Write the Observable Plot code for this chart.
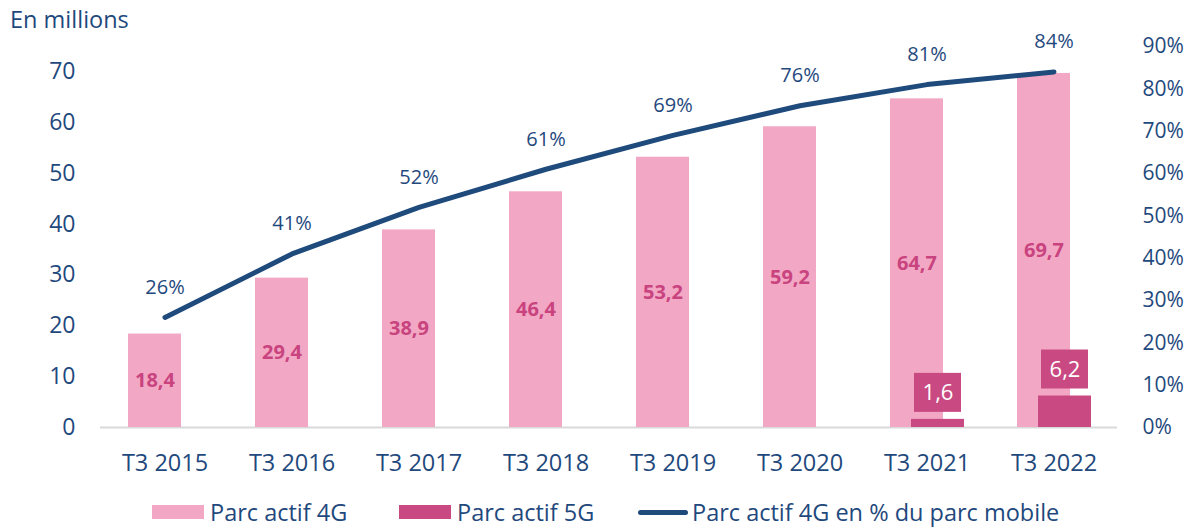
<!DOCTYPE html>
<html>
<head>
<meta charset="utf-8">
<script src="https://cdn.jsdelivr.net/npm/d3@7"></script>
<script src="https://cdn.jsdelivr.net/npm/@observablehq/plot@0.6"></script>
<style>
  body { margin: 0; background: #fff; font-family: "Open Sans", sans-serif; color: #1f497d; }
  #wrap { position: relative; width: 1186px; height: 527px; overflow: hidden; }
  #title { position: absolute; left: 10px; top: 3px; font-size: 23.5px; line-height: 32px; }
  #chart { position: absolute; left: 0; top: 0; }
  #legend { position: absolute; left: 0; top: 497px; width: 1186px; height: 30px; font-size: 23.5px; line-height: 30px; }
  .item { position: absolute; top: 0; display: flex; align-items: center; white-space: nowrap; }
  .sw { width: 52px; height: 14px; margin-right: 6px; }
  .ln { width: 50px; height: 5px; border-radius: 3px; margin-right: 4px; }
</style>
</head>
<body>
<div id="wrap">
  <div id="chart"></div>
  <div id="title">En millions</div>
  <div id="legend"></div>
</div>
<script>
const categories = ["T3 2015", "T3 2016", "T3 2017", "T3 2018", "T3 2019", "T3 2020", "T3 2021", "T3 2022"];
const parc4G = [18.4, 29.4, 38.9, 46.4, 53.2, 59.2, 64.7, 69.7];
const parc5G = [null, null, null, null, null, null, 1.6, 6.2];
const pct4G = [26, 41, 52, 61, 69, 76, 81, 84];
const leftTicks = [0, 10, 20, 30, 40, 50, 60, 70];
const rightTicks = [0, 10, 20, 30, 40, 50, 60, 70, 80, 90];
const seriesNames = ["Parc actif 4G", "Parc actif 5G", "Parc actif 4G en % du parc mobile"];

const navy = "#1f497d";
const lineColor = "#1f4a7c";
const pink = "#f2a8c4";
const magenta = "#c94a82";
const pinkText = "#c9437f";

const K = 75 / 90; // right axis (%) to left axis (millions)
const fmt = v => v.toFixed(1).replace(".", ",");

const data = categories.map((c, i) => ({cat: c, v4: parc4G[i], v5: parc5G[i], pct: pct4G[i]}));
const data5 = data.filter(d => d.v5 != null);

const chart = Plot.plot({
  width: 1186,
  height: 490,
  marginLeft: 100,
  marginRight: 69,
  marginTop: 46,
  marginBottom: 63,
  style: {fontFamily: "Open Sans", fontSize: "23px", color: navy, background: "transparent", overflow: "visible"},
  x: {domain: categories, padding: 0, axis: null},
  y: {domain: [0, 75], axis: null},
  marks: [
    Plot.axisX({tickSize: 0, tickPadding: 27, fontSize: 23.5, label: null}),
    Plot.axisY({anchor: "left", ticks: leftTicks, tickSize: 0, tickPadding: 25, fontSize: 23, label: null}),
    Plot.axisY({anchor: "right", ticks: rightTicks.map(p => p * K), tickFormat: v => Math.round(v / K) + "%", tickSize: 0, tickPadding: 25, fontSize: 21, label: null}),
    Plot.ruleY([0], {stroke: "#d9d9d9", strokeWidth: 2}),
    Plot.barY(data, {x: "cat", y: "v4", fill: pink, insetLeft: 37, insetRight: 37, dx: -10}),
    Plot.barY(data5, {x: "cat", y: "v5", fill: magenta, insetLeft: 37, insetRight: 37, dx: 11}),
    Plot.text(data, {x: "cat", y: d => d.v4 / 2, text: d => fmt(d.v4), fill: pinkText, fontWeight: "bold", fontSize: 20, dx: -10}),
    Plot.barY(data5, {x: "cat", y1: "v5", y2: "v5", insetTop: -46, insetBottom: 7, insetLeft: 40, insetRight: 40, dx: 11, fill: magenta}),
    Plot.text(data5, {x: "cat", y: "v5", text: d => fmt(d.v5), fill: "white", fontSize: 22, dx: 11, dy: -26.5}),
    Plot.line(data, {x: "cat", y: d => d.pct * K, stroke: lineColor, strokeWidth: 5, strokeLinecap: "round", strokeLinejoin: "round"}),
    Plot.text(data, {x: "cat", y: d => d.pct * K, text: d => d.pct + "%", fill: navy, fontSize: 20, dy: -30})
  ]
});
document.getElementById("chart").appendChild(chart);

const legend = document.getElementById("legend");
const items = [
  {name: seriesNames[0], left: 152, html: `<div class="sw" style="background:${pink}"></div>`},
  {name: seriesNames[1], left: 399, html: `<div class="sw" style="background:${magenta}"></div>`},
  {name: seriesNames[2], left: 638, html: `<div class="ln" style="background:${lineColor}"></div>`}
];
for (const it of items) {
  const el = document.createElement("div");
  el.className = "item";
  el.style.left = it.left + "px";
  el.innerHTML = it.html + `<span>${it.name}</span>`;
  legend.appendChild(el);
}
</script>
</body>
</html>
